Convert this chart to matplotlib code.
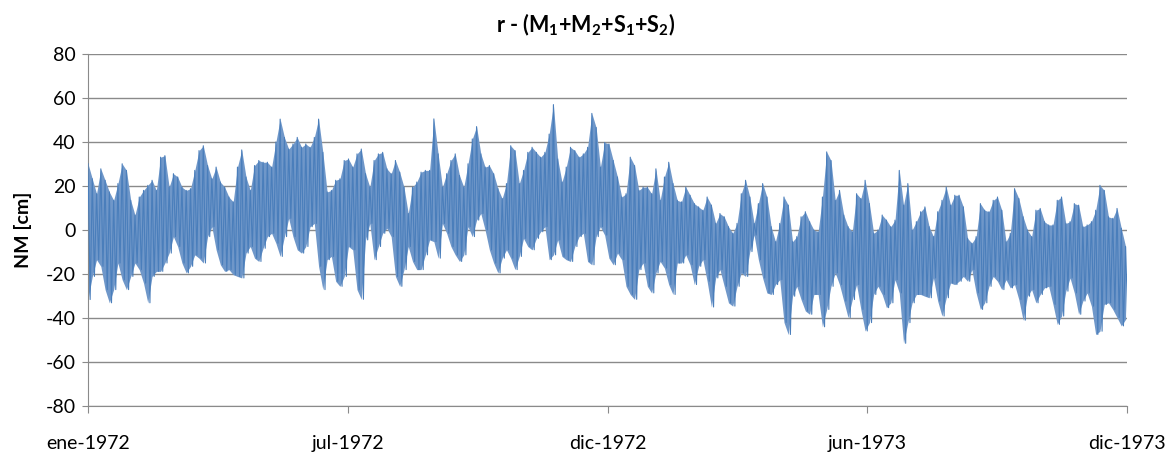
import numpy as np
import matplotlib
matplotlib.use("Agg")
import matplotlib.pyplot as plt

# envelope of the residual signal, one reading every 3 days (cm)
step_days = 3
upper = [
    30.1, 23.3, 16.5, 27.8, 22.6, 17.3, 13.5, 21.1, 30.1, 27.1, 13.5, 6.8, 15.0, 18.0, 20.3, 22.6, 18.0, 33.1, 33.8, 19.5, 25.6, 24.1, 19.5,
    18.0, 18.8, 27.1, 36.1, 38.3, 29.3, 23.3, 28.6, 21.8, 19.5, 15.0, 12.8, 28.6, 36.4, 24.1, 18.0, 29.3, 31.6, 30.8, 30.8, 28.6, 40.0,
    50.4, 42.1, 36.8, 39.1, 42.1, 37.6, 39.1, 37.6, 42.1, 50.4, 35.3, 17.3, 18.0, 22.6, 23.3, 31.6, 32.3, 28.6, 34.6, 36.8, 25.6, 19.5,
    31.6, 34.6, 35.3, 27.8, 25.6, 31.6, 26.3, 19.5, 7.5, 19.5, 21.8, 26.3, 27.1, 27.1, 50.5, 34.6, 19.5, 25.6, 31.6, 34.6, 24.8, 19.5,
    30.1, 41.4, 47.0, 34.6, 28.6, 29.3, 25.6, 18.8, 14.3, 21.1, 38.3, 36.1, 21.1, 27.1, 35.3, 37.6, 35.3, 33.1, 35.3, 43.6, 57.0, 32.3,
    21.8, 28.6, 37.6, 36.1, 33.1, 34.6, 37.6, 53.0, 46.6, 28.6, 39.8, 39.1, 31.6, 24.1, 15.0, 16.5, 33.1, 29.3, 18.0, 19.5, 19.5, 16.5,
    27.8, 13.5, 24.1, 30.8, 21.1, 13.5, 12.8, 19.5, 15.8, 12.0, 10.5, 9.0, 15.0, 11.3, 3.0, 7.5, 6.0, 1.5, -1.5, 3.0, 16.5, 22.6,
    15.0, 3.0, 12.0, 21.1, 15.0, 1.5, -5.3, 3.0, 15.0, 11.3, -5.3, -3.0, 6.0, 8.3, 3.8, 0.0, -0.8, 15.0, 35.5, 31.6, 13.5, 18.0,
    6.8, 1.5, -0.8, 16.5, 14.3, 22.6, 12.0, -1.5, 0.0, 6.8, 4.5, 1.5, 4.5, 27.1, 11.3, 21.1, 0.0, 3.8, 8.3, 10.5, 1.5, -3.0,
    8.3, 13.5, 19.5, 11.3, 15.8, 15.8, 10.5, -3.8, -6.0, -3.0, 12.0, 9.0, 8.3, 13.5, 15.0, 9.0, -5.3, -1.5, 18.8, 14.3, 6.0, 0.0,
    -3.0, 9.0, 9.8, 3.8, 2.3, 2.3, 13.5, 15.0, 3.0, 3.8, 12.0, 11.3, 1.5, 2.3, 3.8, 9.0, 20.3, 18.0, 6.0, 5.3, 9.8, 0.8, -7.5,
]
lower = [
    -31.6, -21.1, -13.5, -16.5, -27.1, -33.1, -27.1, -15.0, -22.6, -27.1, -21.1, -15.0, -18.0, -24.1, -33.1, -21.1, -18.8, -18.8, -15.0, -10.5, -3.0, -7.5, -15.0,
    -19.5, -16.5, -11.3, -12.8, -15.0, -3.0, 1.5, -9.0, -15.8, -18.8, -18.0, -20.3, -21.1, -21.8, -10.5, -7.5, -12.8, -14.3, -8.3, -3.0, -1.5, -6.0,
    -12.0, -3.0, 5.3, -3.0, -9.0, -10.5, -7.5, 1.5, 3.0, -16.5, -27.1, -13.5, -12.0, -23.3, -25.6, -21.1, -7.5, -9.0, -27.1, -31.5, -4.5, 3.0,
    -13.5, -7.5, -1.5, 0.8, -3.0, -21.1, -25.6, -18.0, -7.5, -14.3, -18.0, -18.0, -11.3, -4.5, -5.3, -12.8, 3.0, -1.5, -7.5, -11.3, -14.3, -11.3,
    1.5, -3.0, 4.5, 7.5, 0.0, -9.0, -15.0, -19.5, -12.8, -9.0, -12.8, -18.0, -12.0, -3.8, -7.5, -9.0, -3.8, -0.8, 1.5, -13.5, -11.3, -4.5,
    -12.0, -13.5, -14.3, -7.5, -3.0, -1.5, -14.3, -15.8, -3.0, 1.5, -2.3, -12.8, -15.8, -10.5, -13.5, -25.6, -29.3, -31.5, -18.0, -15.0, -25.6, -28.6,
    -19.5, -14.3, -17.3, -24.8, -29.3, -15.0, -15.0, -11.3, -15.8, -24.8, -16.5, -13.5, -23.3, -35.0, -21.8, -18.0, -25.6, -33.1, -34.6, -25.6, -19.5, -21.1,
    -9.8, -2.3, -13.5, -21.8, -28.6, -29.3, -24.8, -22.6, -42.0, -47.5, -30.1, -25.6, -31.6, -36.8, -38.3, -29.3, -29.3, -44.0, -36.1, -25.6, -19.5, -24.8,
    -32.3, -39.8, -31.6, -24.8, -36.1, -45.9, -42.1, -29.3, -25.6, -29.3, -35.3, -33.1, -22.6, -28.6, -51.5, -42.1, -33.1, -29.3, -29.3, -30.1, -30.8, -21.8,
    -32.3, -39.1, -30.8, -24.1, -24.8, -23.3, -21.1, -23.3, -18.0, -28.6, -36.1, -33.1, -25.6, -21.1, -23.3, -27.1, -22.6, -26.3, -24.8, -31.6, -41.0, -30.1,
    -27.1, -33.1, -29.3, -26.3, -25.6, -33.8, -42.9, -39.1, -27.8, -21.8, -28.6, -38.3, -32.3, -28.6, -34.6, -47.5, -46.0, -33.8, -33.1, -36.1, -39.8, -43.6, -40.6,
]
tick_days = [0, 182.5, 365, 547.5, 730]
tick_labels = ["ene-1972", "jul-1972", "dic-1972", "jun-1973", "dic-1973"]
y_ticks = list(range(-80, 81, 20))

plt.rcParams["font.family"] = ["Lato", "DejaVu Sans"]
plt.rcParams["mathtext.fontset"] = "custom"
plt.rcParams["mathtext.rm"] = "Lato"
plt.rcParams["mathtext.bf"] = "Lato:bold"
plt.rcParams["axes.unicode_minus"] = False

days = np.arange(len(upper)) * step_days
hi = np.array(upper)
lo = np.array(lower)

# zigzag between peaks and troughs: peak at the sample, trough half a step later
zx = np.empty(2 * len(days))
zy = np.empty(2 * len(days))
zx[0::2] = days
zx[1::2] = days + step_days / 2
zy[0::2] = hi
zy[1::2] = lo

fig = plt.figure(figsize=(11.72, 4.55), dpi=100)
ax = fig.add_axes([0.0751, 0.1077, 0.8865, 0.7736])

ax.fill_between(days, lo, hi, color="#6f97c9", lw=0, zorder=2)
ax.plot(zx, zy, color="#4a7ebb", lw=0.8, zorder=3)

ax.set_xlim(0, 730)
ax.set_ylim(-80, 80)
ax.set_yticks(y_ticks)
ax.set_xticks(tick_days)
ax.set_xticklabels(tick_labels)
ax.grid(axis="y", color="#8a8a8a", lw=1)
ax.set_axisbelow(True)

for s in ("top", "right"):
    ax.spines[s].set_visible(False)
for s in ("left", "bottom"):
    ax.spines[s].set_color("#8a8a8a")
ax.tick_params(axis="y", length=4, color="#8a8a8a", labelsize=14, pad=5)
ax.tick_params(axis="x", length=5, color="#8a8a8a", labelsize=14, pad=16)

ax.set_ylabel("NM [cm]", fontsize=14, fontweight="bold", labelpad=10)
fig.suptitle(r"r - (M$_\mathbf{1}$+M$_\mathbf{2}$+S$_\mathbf{1}$+S$_\mathbf{2}$)",
             x=0.5, y=0.975, fontsize=15.5, fontweight="bold")

fig.savefig("out.png", dpi=100)
plt.close(fig)
